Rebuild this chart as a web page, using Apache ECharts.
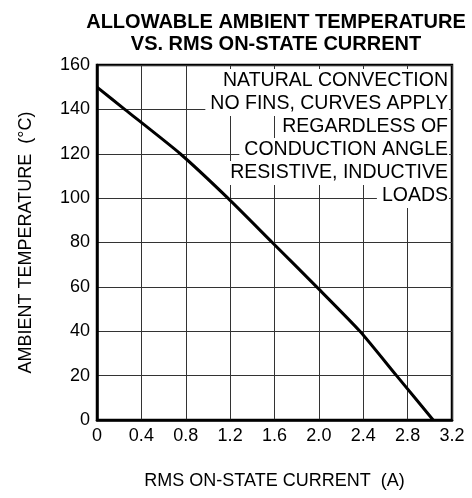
<!DOCTYPE html>
<html>
<head>
<meta charset="utf-8">
<script src="https://cdn.jsdelivr.net/npm/echarts@6/dist/echarts.min.js"></script>
<style>
html,body{margin:0;padding:0;background:#fff;}
#chart{width:472px;height:498px;}
</style>
</head>
<body>
<div id="chart"></div>
<script>
// Data
const currentA = [0, 0.25, 0.75, 1.18, 1.58, 1.98, 2.37, 2.70, 3.03];
const ambientC = [150, 140, 120, 100, 80, 60, 40, 20, 0];
const xTickLabels = ['0', '0.4', '0.8', '1.2', '1.6', '2.0', '2.4', '2.8', '3.2'];
const yTickLabels = ['0', '20', '40', '60', '80', '100', '120', '140', '160'];
const titleLines = ['ALLOWABLE AMBIENT TEMPERATURE', 'VS. RMS ON-STATE CURRENT'];
const noteLines = ['NATURAL CONVECTION', 'NO FINS, CURVES APPLY', 'REGARDLESS OF', 'CONDUCTION ANGLE', 'RESISTIVE, INDUCTIVE', 'LOADS'];
const xName = 'RMS ON-STATE CURRENT  (A)';
const yName = 'AMBIENT TEMPERATURE  (\u00B0C)';

const FONT = '"Liberation Sans", Arial, Helvetica, sans-serif';
const NOTE_SIZE = 19.5;
const NOTE_TOP = 71, NOTE_STEP = 23, NOTE_RIGHT = 24;

const measureCtx = document.createElement('canvas').getContext('2d');
measureCtx.font = NOTE_SIZE + 'px ' + FONT;

const chart = echarts.init(document.getElementById('chart'), null, {renderer: 'canvas'});

const noteGraphics = [];
noteLines.forEach((line, i) => {
  const w = measureCtx.measureText(line).width;
  noteGraphics.push({
    type: 'rect',
    right: NOTE_RIGHT - 1,
    top: NOTE_TOP + i * NOTE_STEP - 2,
    zlevel: 1,
    z: 9,
    shape: {width: w + 6, height: NOTE_STEP + 1},
    style: {fill: '#fff', stroke: null}
  });
  noteGraphics.push({
    type: 'text',
    right: NOTE_RIGHT,
    top: NOTE_TOP + i * NOTE_STEP,
    zlevel: 1,
    z: 10,
    style: {text: line, font: NOTE_SIZE + 'px ' + FONT, fill: '#000'}
  });
});

const option = {
  backgroundColor: '#fff',
  animation: false,
  title: {
    text: titleLines.join('\n'),
    left: 271,
    textAlign: 'center',
    top: 6,
    textStyle: {fontFamily: FONT, fontWeight: 'bold', fontSize: 20, lineHeight: 22, color: '#000'}
  },
  grid: {left: 97, right: 20, top: 65, bottom: 78, show: true, borderColor: '#000', borderWidth: 2.5, backgroundColor: 'transparent'},
  xAxis: {
    type: 'value', min: 0, max: 3.2, interval: 0.4, z: 0,
    name: xName, nameLocation: 'middle', nameGap: 52,
    nameTextStyle: {fontFamily: FONT, fontSize: 18, color: '#000'},
    axisLine: {show: true, onZero: false, lineStyle: {color: '#000', width: 2.5}},
    axisTick: {show: false},
    axisLabel: {fontFamily: FONT, fontSize: 18, color: '#000', margin: 7,
      formatter: function (v) { return xTickLabels[Math.round(v / 0.4)]; }},
    splitLine: {show: true, lineStyle: {color: '#333', width: 1}}
  },
  yAxis: {
    type: 'value', min: 0, max: 160, interval: 20, z: 0,
    name: yName, nameLocation: 'middle', nameGap: 62, nameRotate: 90,
    nameTextStyle: {fontFamily: FONT, fontSize: 18, color: '#000'},
    axisLine: {show: true, onZero: false, lineStyle: {color: '#000', width: 2.5}},
    axisTick: {show: false},
    axisLabel: {fontFamily: FONT, fontSize: 18, color: '#000', margin: 7,
      formatter: function (v) { return yTickLabels[Math.round(v / 20)]; }},
    splitLine: {show: true, lineStyle: {color: '#333', width: 1}}
  },
  series: [{
    type: 'line',
    data: currentA.map((x, i) => [x, ambientC[i]]),
    showSymbol: false,
    smooth: 0.2,
    lineStyle: {color: '#000', width: 3, join: 'round'},
    z: 3
  }],
  graphic: {elements: noteGraphics, zlevel: 1, z: 100}
};
chart.setOption(option);
</script>
</body>
</html>
